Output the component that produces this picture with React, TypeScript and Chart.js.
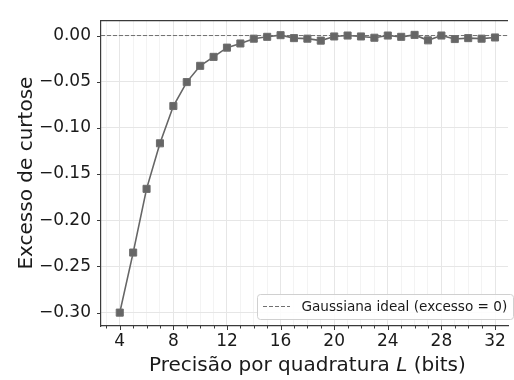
import React, { useEffect, useRef } from "react";
import { Chart, registerables } from "chart.js";

Chart.register(...registerables);

// Data
const L_VALUES = [4, 5, 6, 7, 8, 9, 10, 11, 12, 13, 14, 15, 16, 17, 18, 19, 20, 21, 22, 23, 24, 25, 26, 27, 28, 29, 30, 31, 32];
const EXCESS_KURTOSIS = [
  -0.300, -0.235, -0.166, -0.1167, -0.0763, -0.0504, -0.0328, -0.0231, -0.0131, -0.0086,
  -0.0034, -0.0014, 0.0004, -0.0028, -0.0034, -0.0055, -0.0010, 0.0000, -0.0010, -0.0024,
  0.0000, -0.0014, 0.0007, -0.0052, 0.0000, -0.0038, -0.0028, -0.0034, -0.0021,
];
const X_MAJOR_TICKS = [4, 8, 12, 16, 20, 24, 28, 32];
const X_MINOR_TICKS = [3, 5, 6, 7, 9, 10, 11, 13, 14, 15, 17, 18, 19, 21, 22, 23, 25, 26, 27, 29, 30, 31];
const Y_MAJOR_TICKS = [-0.3, -0.25, -0.2, -0.15, -0.1, -0.05, 0.0];
const IDEAL_VALUE = 0;

const X_MIN = 2.6;
const X_MAX = 32.97;
const Y_MIN = -0.3145;
const Y_MAX = 0.0166;

const X_TITLE_PRE = "Precisão por quadratura ";
const X_TITLE_ITALIC = "L";
const X_TITLE_POST = " (bits)";
const Y_TITLE = "Excesso de curtose";
const LEGEND_LABEL = "Gaussiana ideal (excesso = 0)";

const FONT = "'DejaVu Sans', sans-serif";
const SPINE = "#3a3a3a";

const isMajorX = (v: number) => X_MAJOR_TICKS.some((t) => Math.abs(t - v) < 1e-6);

const decorPlugin = {
  id: "decor",
  afterDraw(chart: any) {
    const { ctx, chartArea } = chart;
    const xs = chart.scales.x;
    const ys = chart.scales.y;
    ctx.save();
    // top spine
    ctx.strokeStyle = SPINE;
    ctx.lineWidth = 1.2;
    ctx.beginPath();
    ctx.moveTo(chartArea.left, chartArea.top + 0.5);
    ctx.lineTo(chartArea.right, chartArea.top + 0.5);
    ctx.stroke();
    // tick marks
    ctx.lineWidth = 1;
    ctx.beginPath();
    [...X_MAJOR_TICKS, ...X_MINOR_TICKS].forEach((v) => {
      const px = Math.round(xs.getPixelForValue(v)) + 0.5;
      const len = isMajorX(v) ? 4 : 2.5;
      ctx.moveTo(px, chartArea.bottom);
      ctx.lineTo(px, chartArea.bottom + len);
    });
    Y_MAJOR_TICKS.forEach((v) => {
      const py = Math.round(ys.getPixelForValue(v)) + 0.5;
      ctx.moveTo(chartArea.left - 4, py);
      ctx.lineTo(chartArea.left, py);
    });
    ctx.stroke();

    // x title
    ctx.fillStyle = "#1a1a1a";
    const fs = 20;
    const normal = `${fs}px ${FONT}`;
    const italic = `oblique ${fs}px ${FONT}`;
    ctx.font = normal;
    const w1 = ctx.measureText(X_TITLE_PRE).width;
    const w3 = ctx.measureText(X_TITLE_POST).width;
    ctx.font = italic;
    const w2 = ctx.measureText(X_TITLE_ITALIC).width;
    const cx = xs.getPixelForValue((X_MIN + 33.4) / 2);
    const x0 = cx - (w1 + w2 + w3) / 2;
    const by = 371;
    ctx.textBaseline = "alphabetic";
    ctx.textAlign = "left";
    ctx.font = normal;
    ctx.fillText(X_TITLE_PRE, x0, by);
    ctx.font = italic;
    ctx.fillText(X_TITLE_ITALIC, x0 + w1, by);
    ctx.font = normal;
    ctx.fillText(X_TITLE_POST, x0 + w1 + w2, by);

    // y title
    ctx.save();
    ctx.translate(32, (chartArea.top + chartArea.bottom) / 2);
    ctx.rotate(-Math.PI / 2);
    ctx.textAlign = "center";
    ctx.textBaseline = "alphabetic";
    ctx.font = normal;
    ctx.fillText(Y_TITLE, 0, 0);
    ctx.restore();

    // legend
    const lx = 257.5, ly = 294.5, lw = 256, lh = 25;
    const r = 3;
    ctx.beginPath();
    ctx.moveTo(lx + r, ly);
    ctx.lineTo(lx + lw - r, ly);
    ctx.arcTo(lx + lw, ly, lx + lw, ly + r, r);
    ctx.lineTo(lx + lw, ly + lh - r);
    ctx.arcTo(lx + lw, ly + lh, lx + lw - r, ly + lh, r);
    ctx.lineTo(lx + r, ly + lh);
    ctx.arcTo(lx, ly + lh, lx, ly + lh - r, r);
    ctx.lineTo(lx, ly + r);
    ctx.arcTo(lx, ly, lx + r, ly, r);
    ctx.closePath();
    ctx.fillStyle = "rgba(255,255,255,0.85)";
    ctx.fill();
    ctx.strokeStyle = "#d0d0d0";
    ctx.lineWidth = 1;
    ctx.stroke();
    ctx.strokeStyle = "#707070";
    ctx.setLineDash([4, 2]);
    ctx.beginPath();
    ctx.moveTo(263, 306.5);
    ctx.lineTo(290, 306.5);
    ctx.stroke();
    ctx.setLineDash([]);
    ctx.fillStyle = "#1a1a1a";
    ctx.font = `13.6px ${FONT}`;
    ctx.textBaseline = "middle";
    ctx.textAlign = "left";
    ctx.fillText(LEGEND_LABEL, 301.5, 307);
    ctx.restore();
  },
};

export default function App() {
  const ref = useRef<HTMLCanvasElement>(null);
  useEffect(() => {
    if (!ref.current) return;
    const chart = new Chart(ref.current, {
      type: "line",
      data: {
        datasets: [
          {
            label: "dados",
            data: L_VALUES.map((x, i) => ({ x, y: EXCESS_KURTOSIS[i] })),
            borderColor: "#666666",
            backgroundColor: "#666666",
            borderWidth: 1.6,
            pointStyle: "rect",
            pointRadius: 5,
            pointBorderWidth: 1,
            pointBorderColor: "#6e6e6e",
            pointBackgroundColor: "#666666",
            tension: 0,
            order: 1,
          },
          {
            label: LEGEND_LABEL,
            data: [
              { x: X_MIN, y: IDEAL_VALUE },
              { x: X_MAX, y: IDEAL_VALUE },
            ],
            borderColor: "#707070",
            borderWidth: 1,
            borderDash: [4, 2],
            pointRadius: 0,
            order: 2,
          },
        ],
      },
      options: {
        animation: false,
        responsive: false,
        layout: { padding: { top: 6, left: 0, right: 0, bottom: 0 } },
        plugins: { legend: { display: false }, tooltip: { enabled: false } },
        scales: {
          x: {
            type: "linear",
            min: X_MIN,
            max: X_MAX,
            afterBuildTicks: (s: any) => {
              s.ticks = [...X_MINOR_TICKS, ...X_MAJOR_TICKS].sort((a, b) => a - b).map((v) => ({ value: v }));
            },
            afterFit: (s: any) => {
              s.height = 54;
            },
            ticks: {
              autoSkip: false,
              maxRotation: 0,
              padding: 5.5,
              color: "#1a1a1a",
              font: { family: FONT, size: 17 },
              callback: (v: any) => (isMajorX(Number(v)) ? String(Math.round(Number(v))) : ""),
            },
            grid: {
              drawTicks: false,
              lineWidth: 1,
              color: (c: any) => {
                const v = c.tick ? c.tick.value : 0;
                return isMajorX(v) ? "#e6e6e6" : "#f3f3f3";
              },
            },
            border: { display: true, color: SPINE, width: 1.2 },
          },
          y: {
            type: "linear",
            min: Y_MIN,
            max: Y_MAX,
            afterBuildTicks: (s: any) => {
              s.ticks = Y_MAJOR_TICKS.map((v) => ({ value: v }));
            },
            afterFit: (s: any) => {
              s.width = 101;
            },
            ticks: {
              autoSkip: false,
              padding: 10,
              color: "#1a1a1a",
              font: { family: FONT, size: 17 },
              callback: (v: any) => {
                const n = Number(v);
                const s = Math.abs(n).toFixed(2);
                return n < -1e-9 ? "\u2212" + s : s;
              },
            },
            grid: {
              drawTicks: false,
              lineWidth: 1,
              color: "#e6e6e6",
            },
            border: { display: true, color: SPINE, width: 1.2 },
          },
        },
      },
      plugins: [decorPlugin],
    } as any);
    return () => chart.destroy();
  }, []);
  return (
    <div style={{ position: "fixed", left: 0, top: 0, width: 514, height: 380, background: "#fff" }}>
      <canvas ref={ref} width={514} height={380} style={{ display: "block" }} />
    </div>
  );
}
